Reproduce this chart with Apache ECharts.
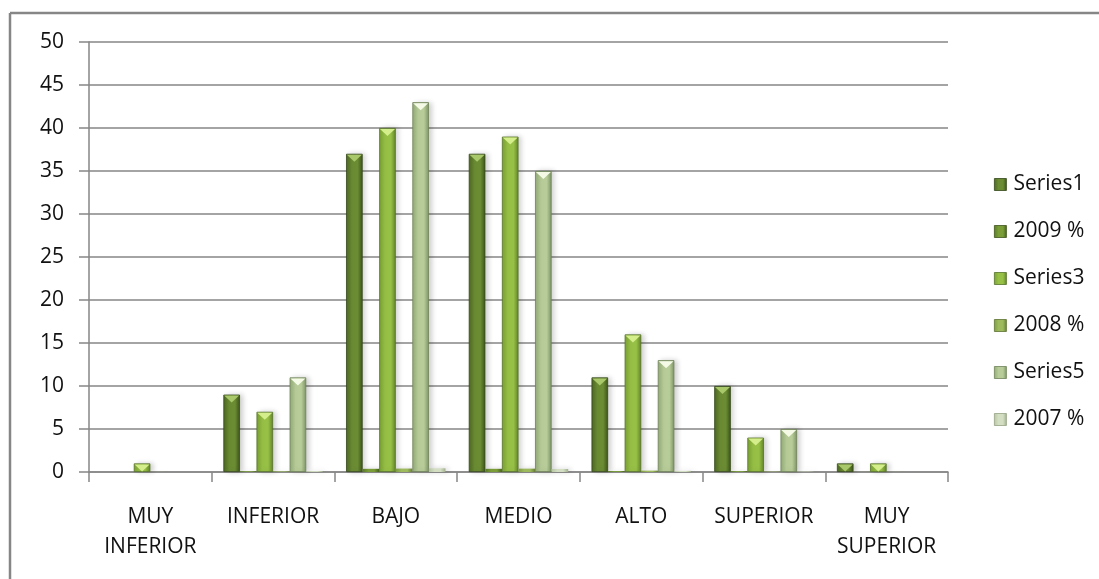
<!DOCTYPE html>
<html>
<head>
<meta charset="utf-8">
<script src="https://cdn.jsdelivr.net/npm/echarts@6/dist/echarts.min.js"></script>
<style>
html,body{margin:0;padding:0;background:#fff;}
#c{width:1099px;height:579px;}
</style>
</head>
<body>
<div id="c"></div>
<script>
var categories = ['MUY\nINFERIOR', 'INFERIOR', 'BAJO', 'MEDIO', 'ALTO', 'SUPERIOR', 'MUY\nSUPERIOR'];
var seriesNames = ['Series1', '2009 %', 'Series3', '2008 %', 'Series5', '2007 %'];
var series1 = [0, 9, 37, 37, 11, 10, 1];
var pct2009 = [0, 0.09, 0.37, 0.37, 0.11, 0.10, 0.01];
var series3 = [1, 7, 40, 39, 16, 4, 1];
var pct2008 = [0.01, 0.07, 0.40, 0.39, 0.16, 0.04, 0.01];
var series5 = [0, 11, 43, 35, 13, 5, 0];
var pct2007 = [0, 0.11, 0.43, 0.35, 0.13, 0.05, 0];
var yTicks = [0, 5, 10, 15, 20, 25, 30, 35, 40, 45, 50];

var allData = [series1, pct2009, series3, pct2008, series5, pct2007];
var palettes = [
  {l:'#4d6822', m:'#6b8c33', r:'#3c5419', b:'#34481a', t:'#a9c86a'},
  {l:'#587a25', m:'#7a9d38', r:'#46601c', b:'#3d531a', t:'#b5d070'},
  {l:'#7aa232', m:'#97c046', r:'#628529', b:'#56722a', t:'#d4ee8c'},
  {l:'#7f9c45', m:'#9dba5c', r:'#687f38', b:'#5d7232', t:'#d6e8a2'},
  {l:'#93ab78', m:'#b7cc98', r:'#7d9466', b:'#6f8358', t:'#f4fae6'},
  {l:'#b6c4a3', m:'#d3dec3', r:'#a2b08e', b:'#95a284', t:'#f6f9ee'}
];
var bigSeries = [true, false, true, false, true, false];

function grad(p){
  return new echarts.graphic.LinearGradient(0,0,1,0,[
    {offset:0, color:p.l},
    {offset:0.35, color:p.m},
    {offset:0.7, color:p.m},
    {offset:1, color:p.r}
  ]);
}

var font = 'Open Sans';
var chart = echarts.init(document.getElementById('c'), null, {renderer:'canvas'});
var series = seriesNames.map(function(n, i){
  var p = palettes[i];
  var s = {
    name: n,
    type: 'bar',
    data: allData[i].map(function(v){
      return v === 0 ? {value: v, itemStyle: {borderWidth: 0, shadowBlur: 0}} : v;
    }),
    barGap: '0%',
    barCategoryGap: '19%',
    itemStyle: {
      color: grad(p),
      borderColor: bigSeries[i] ? p.b : p.l,
      borderWidth: bigSeries[i] ? 0.8 : 0,
      shadowColor: 'rgba(0,0,0,0.18)',
      shadowBlur: 5,
      shadowOffsetX: 3
    },
    emphasis: {disabled: true}
  };
  if (bigSeries[i]) {
    var pts = [];
    allData[i].forEach(function(v, k){
      if (v > 0) pts.push({coord: [k, v]});
    });
    s.markPoint = {
      symbol: 'triangle',
      symbolRotate: 180,
      symbolSize: [15, 7],
      symbolOffset: [0, 4.5],
      silent: true,
      label: {show: false},
      itemStyle: {color: p.t, borderWidth: 0},
      data: pts
    };
  }
  return s;
});

var legendData = seriesNames.map(function(n, i){
  return {name: n, itemStyle: {color: grad(palettes[i]), borderColor: palettes[i].b, borderWidth: 0.8}};
});

chart.setOption({
  animation: false,
  backgroundColor: '#ffffff',
  grid: {left: 89, right: 151, top: 42, bottom: 107, containLabel: false},
  legend: {
    orient: 'vertical',
    left: 989,
    top: 169,
    icon: 'rect',
    itemWidth: 12,
    itemHeight: 12,
    itemGap: 26,
    textStyle: {fontFamily: font, fontSize: 21, color: '#111', lineHeight: 21, padding: [0,0,0,2]},
    data: legendData
  },
  xAxis: {
    type: 'category',
    data: categories,
    axisLine: {show: true, lineStyle: {color: '#868686', width: 1.5}},
    axisTick: {show: true, length: 10, lineStyle: {color: '#868686', width: 1.5}},
    axisLabel: {interval: 0, fontFamily: font, fontSize: 21, color: '#111', lineHeight: 30, margin: 30}
  },
  yAxis: {
    type: 'value',
    min: 0,
    max: 50,
    interval: 5,
    axisLine: {show: true, lineStyle: {color: '#868686', width: 1.5}},
    axisTick: {show: true, length: 10, lineStyle: {color: '#868686', width: 1.5}},
    splitLine: {show: true, lineStyle: {color: '#868686', width: 1.5}},
    axisLabel: {fontFamily: font, fontSize: 21, color: '#111', margin: 25,
      formatter: function(v){ return yTicks.indexOf(v) >= 0 ? String(v) : ''; }}
  },
  series: series,
  graphic: [
    {type:'line', shape:{x1:10, y1:13, x2:1099, y2:13}, style:{stroke:'#868686', lineWidth:2.5}, silent:true},
    {type:'line', shape:{x1:10, y1:13, x2:10, y2:579}, style:{stroke:'#868686', lineWidth:2.5}, silent:true}
  ]
});
</script>
</body>
</html>
